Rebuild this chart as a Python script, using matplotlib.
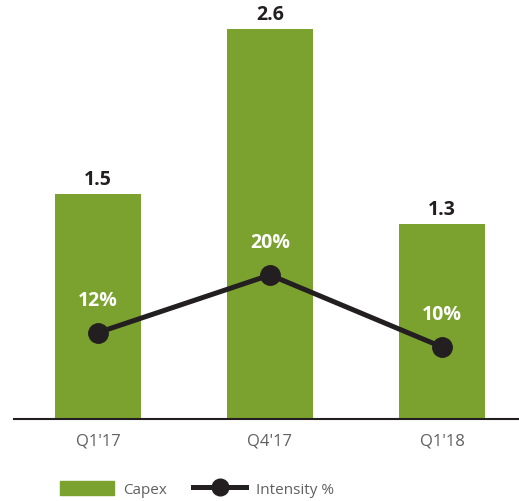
import matplotlib.pyplot as plt
import numpy as np
from matplotlib.patches import Patch
from matplotlib.lines import Line2D

plt.rcParams['font.family'] = ['Open Sans', 'DejaVu Sans']

quarters = ["Q1'17", "Q4'17", "Q1'18"]
capex = [1.5, 2.6, 1.3]
intensity = [12, 20, 10]

green = '#7ba12e'
dark = '#231f20'

fig = plt.figure(figsize=(5.19, 5.02), dpi=100)
ax = fig.add_axes([14/519, 82/502, 505/519, 400/502])
x = np.arange(len(quarters))

ax.bar(x, capex, width=0.5, color=green, zorder=2)
for xi, v in zip(x, capex):
    ax.text(xi, v + 0.035, f'{v:.1f}', ha='center', va='bottom', fontsize=14,
            fontweight='bold', color=dark)

ax.set_xlim(-84/172, 421/172)
ax.set_ylim(0, 400/150)
ax.set_yticks([])
ax.set_xticks(x)
ax.set_xticklabels(quarters, fontsize=12, color='#606060')
ax.tick_params(axis='x', length=0, pad=10)
for s in ['top', 'right', 'left']:
    ax.spines[s].set_visible(False)
ax.spines['bottom'].set_linewidth(1.5)
ax.spines['bottom'].set_color(dark)

ax2 = ax.twinx()
ax2.set_ylim(0, 400/7.2)
ax2.plot(x, intensity, '-o', color=dark, lw=3.6, markersize=14, zorder=3)
for xi, v in zip(x, intensity):
    ax2.text(xi, v + 3.2, f'{v}%', ha='center', va='bottom', fontsize=14,
             fontweight='bold', color='white')
ax2.set_yticks([])
for s in ax2.spines.values():
    s.set_visible(False)

handles = [Patch(color=green), Line2D([], [], color=dark, lw=3.6, marker='o', markersize=12)]
fig.legend(handles, ['Capex', 'Intensity %'], loc='lower left', bbox_to_anchor=(0.09, -0.02),
           ncol=2, frameon=False, fontsize=11, handlelength=3.5, handleheight=1.1,
           handletextpad=0.6, columnspacing=1.7, labelcolor='#606060')

fig.savefig('out.png', dpi=100)
